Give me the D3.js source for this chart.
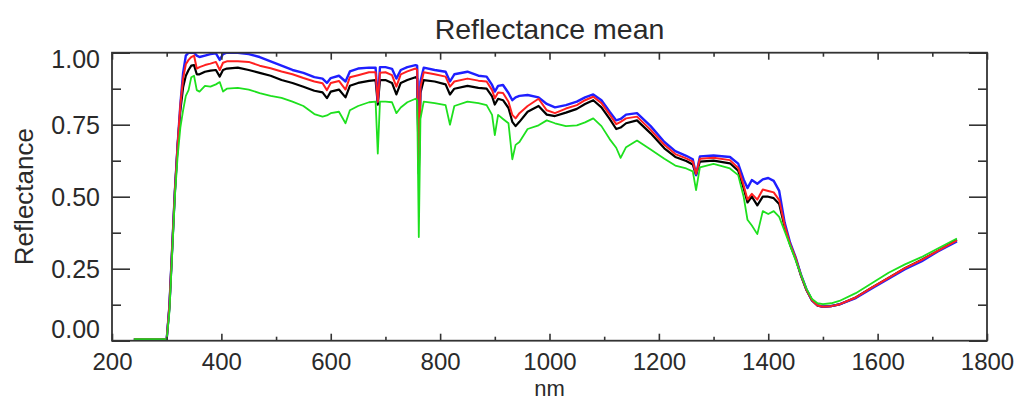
<!DOCTYPE html>
<html>
<head>
<meta charset="utf-8">
<script src="https://cdn.jsdelivr.net/npm/d3@7/dist/d3.min.js"></script>
<style>
  html, body { margin: 0; padding: 0; background: #fff; }
  svg { display: block; }
  text { font-family: "Liberation Sans", Arial, Helvetica, sans-serif; fill: #2a2a2a; }
</style>
</head>
<body>
<svg id="chart" width="1022" height="401"></svg>
<script>
// ---- data ----
const wavelengths = [240,300,305,310,315,320,325,330,335,340,345,350,355,360,370,380,390,397,403,410,430,450,470,490,510,530,550,570,585,593,600,615,627,635,650,670,682,686,690,700,712,720,728,740,755,758,761,764,770,790,810,818,826,850,870,885,895,900,906,915,925,932,938,945,960,980,995,1010,1030,1050,1065,1080,1095,1110,1122,1130,1140,1160,1185,1210,1230,1250,1262,1268,1275,1300,1330,1345,1355,1362,1370,1380,1390,1400,1410,1420,1430,1440,1450,1460,1470,1480,1490,1500,1515,1530,1560,1590,1620,1650,1680,1710,1745];

const blueValues = [0.005,0.005,0.12,0.32,0.52,0.68,0.82,0.93,0.99,1.0,1.0,1.0,0.99,0.985,0.99,0.995,0.998,0.975,0.995,1.0,1.0,0.995,0.985,0.97,0.955,0.94,0.93,0.915,0.91,0.895,0.912,0.92,0.9,0.935,0.945,0.948,0.948,0.83,0.95,0.95,0.944,0.91,0.94,0.95,0.957,0.955,0.62,0.9,0.948,0.94,0.934,0.9,0.925,0.934,0.92,0.917,0.888,0.865,0.885,0.888,0.86,0.835,0.845,0.85,0.853,0.845,0.822,0.81,0.818,0.83,0.845,0.855,0.835,0.795,0.765,0.77,0.785,0.79,0.745,0.69,0.658,0.642,0.63,0.575,0.64,0.643,0.638,0.615,0.56,0.53,0.558,0.545,0.56,0.565,0.555,0.52,0.41,0.34,0.29,0.228,0.178,0.14,0.123,0.118,0.12,0.126,0.148,0.182,0.215,0.248,0.275,0.31,0.345];

const redValues = [0.005,0.005,0.12,0.32,0.52,0.68,0.82,0.91,0.96,0.975,0.985,0.99,0.945,0.95,0.957,0.962,0.968,0.94,0.965,0.97,0.97,0.968,0.955,0.946,0.935,0.925,0.912,0.9,0.894,0.87,0.895,0.902,0.872,0.915,0.922,0.932,0.932,0.83,0.93,0.932,0.922,0.882,0.925,0.935,0.945,0.94,0.6,0.88,0.932,0.925,0.917,0.882,0.9,0.91,0.903,0.9,0.87,0.842,0.862,0.86,0.83,0.784,0.772,0.79,0.815,0.84,0.8,0.79,0.806,0.818,0.835,0.847,0.825,0.785,0.752,0.76,0.772,0.778,0.732,0.68,0.648,0.633,0.622,0.58,0.632,0.635,0.627,0.6,0.54,0.49,0.51,0.49,0.525,0.52,0.515,0.488,0.4,0.335,0.288,0.226,0.176,0.14,0.122,0.118,0.12,0.126,0.15,0.185,0.218,0.252,0.28,0.312,0.348];

const blackValues = [0.005,0.005,0.12,0.32,0.52,0.68,0.80,0.88,0.92,0.94,0.955,0.957,0.925,0.925,0.934,0.938,0.94,0.917,0.94,0.945,0.948,0.94,0.93,0.92,0.905,0.895,0.882,0.868,0.862,0.842,0.865,0.872,0.845,0.885,0.895,0.902,0.905,0.82,0.905,0.905,0.895,0.855,0.895,0.905,0.915,0.91,0.58,0.86,0.905,0.9,0.89,0.855,0.875,0.885,0.878,0.875,0.848,0.82,0.84,0.835,0.808,0.76,0.745,0.76,0.795,0.815,0.785,0.78,0.792,0.805,0.822,0.835,0.81,0.77,0.735,0.74,0.755,0.765,0.72,0.668,0.638,0.624,0.612,0.575,0.622,0.625,0.616,0.59,0.53,0.48,0.5,0.47,0.5,0.5,0.495,0.475,0.395,0.333,0.285,0.225,0.175,0.14,0.122,0.118,0.12,0.126,0.15,0.185,0.218,0.252,0.28,0.312,0.35];

const greenValues = [0.005,0.005,0.10,0.30,0.50,0.64,0.74,0.80,0.85,0.87,0.915,0.92,0.87,0.865,0.885,0.882,0.89,0.898,0.865,0.875,0.878,0.872,0.86,0.85,0.843,0.83,0.815,0.787,0.778,0.782,0.79,0.795,0.755,0.8,0.815,0.828,0.83,0.65,0.83,0.83,0.828,0.79,0.81,0.828,0.84,0.835,0.36,0.77,0.83,0.825,0.818,0.75,0.815,0.83,0.825,0.818,0.784,0.714,0.784,0.77,0.755,0.63,0.68,0.69,0.735,0.748,0.765,0.755,0.745,0.748,0.758,0.772,0.745,0.7,0.67,0.635,0.672,0.695,0.664,0.632,0.608,0.598,0.588,0.523,0.602,0.614,0.598,0.575,0.5,0.42,0.4,0.37,0.45,0.44,0.45,0.43,0.38,0.33,0.28,0.228,0.18,0.145,0.13,0.127,0.13,0.138,0.165,0.2,0.236,0.265,0.29,0.32,0.355];

const xMajorTicks = [200,400,600,800,1000,1200,1400,1600,1800];
const xMinorTicks = [300,500,700,900,1100,1300,1500,1700];
const yMajorTicks = [0,0.25,0.5,0.75,1.0];
const yMinorTicks = [0.125,0.375,0.625,0.875];
const titleText = "Reflectance mean";
const xTitle = "nm";
const yTitle = "Reflectance";

// ---- layout ----
const L = 112, R = 987, T = 52.7, B = 340.7;
const x = d3.scaleLinear().domain([200, 1800]).range([L, R]);
const y = d3.scaleLinear().domain([0, 1]).range([B, T]);
const axisColor = "#333";

const svg = d3.select("#chart");

svg.append("defs").append("clipPath").attr("id", "plotclip")
  .append("rect").attr("x", L).attr("y", T).attr("width", R - L).attr("height", B - T);

// series
const series = [
  { name: "black", color: "#000000", values: blackValues, w: 2.2 },
  { name: "blue",  color: "#1f1fff", values: blueValues,  w: 2.4 },
  { name: "red",   color: "#ff2020", values: redValues,   w: 2.0 },
  { name: "green", color: "#1ee01e", values: greenValues, w: 1.8 }
];

const line = d3.line()
  .x((d, i) => x(wavelengths[i]))
  .y(d => y(d));

const g = svg.append("g").attr("clip-path", "url(#plotclip)");
series.forEach(s => {
  g.append("path")
    .datum(s.values)
    .attr("d", line)
    .attr("fill", "none")
    .attr("stroke", s.color)
    .attr("stroke-width", s.w)
    .attr("stroke-linejoin", "round");
});

// axes: bottom/top/left/right with inward ticks
const axB = d3.axisBottom(x).tickValues(xMajorTicks).tickSize(-7).tickPadding(12).tickFormat(d3.format("d"));
const axBm = d3.axisBottom(x).tickValues(xMinorTicks).tickSize(-4).tickFormat("");
const axT = d3.axisTop(x).tickValues(xMajorTicks).tickSize(-7).tickFormat("");
const axTm = d3.axisTop(x).tickValues(xMinorTicks).tickSize(-4).tickFormat("");
const axL = d3.axisLeft(y).tickValues(yMajorTicks).tickSize(-18).tickPadding(12).tickFormat(d3.format(".2f"));
const axLm = d3.axisLeft(y).tickValues(yMinorTicks).tickSize(-9).tickFormat("");
const axR = d3.axisRight(y).tickValues(yMajorTicks).tickSize(-18).tickFormat("");
const axRm = d3.axisRight(y).tickValues(yMinorTicks).tickSize(-9).tickFormat("");

function styleAxis(sel, size) {
  sel.select(".domain").remove();
  sel.selectAll(".tick line").attr("stroke", axisColor).attr("stroke-width", 1.6);
  sel.selectAll(".tick text").attr("fill", "#2a2a2a")
    .style("font-size", (size || 25) + "px")
    .style("font-family", '"Liberation Sans", Arial, Helvetica, sans-serif');
}

const gB = svg.append("g").attr("transform", `translate(0,${B})`).call(axB).call(styleAxis, 24);
svg.append("g").attr("transform", `translate(0,${B})`).call(axBm).call(styleAxis);
svg.append("g").attr("transform", `translate(0,${T})`).call(axT).call(styleAxis);
svg.append("g").attr("transform", `translate(0,${T})`).call(axTm).call(styleAxis);
const gL = svg.append("g").attr("transform", `translate(${L},0)`).call(axL).call(styleAxis, 25);
svg.append("g").attr("transform", `translate(${L},0)`).call(axLm).call(styleAxis);
svg.append("g").attr("transform", `translate(${R},0)`).call(axR).call(styleAxis);
svg.append("g").attr("transform", `translate(${R},0)`).call(axRm).call(styleAxis);

gB.selectAll(".tick text").attr("dy", "0.71em");
// end labels on y axis are nudged inward as in the reference
gL.selectAll(".tick text").attr("dy", d => d === 0 ? "-0.12em" : (d === 1 ? "0.6em" : "0.35em"));

// frame
svg.append("rect")
  .attr("x", L).attr("y", T).attr("width", R - L).attr("height", B - T)
  .attr("fill", "none").attr("stroke", axisColor).attr("stroke-width", 1.8);

// titles
svg.append("text").attr("x", (L + R) / 2).attr("y", 39)
  .attr("text-anchor", "middle").style("font-size", "28.5px").text(titleText);
svg.append("text").attr("x", (L + R) / 2).attr("y", 396)
  .attr("text-anchor", "middle").style("font-size", "22px").text(xTitle);
svg.append("text")
  .attr("transform", `translate(33,${(T + B) / 2}) rotate(-90)`)
  .attr("text-anchor", "middle").style("font-size", "26px").text(yTitle);
</script>
</body>
</html>
